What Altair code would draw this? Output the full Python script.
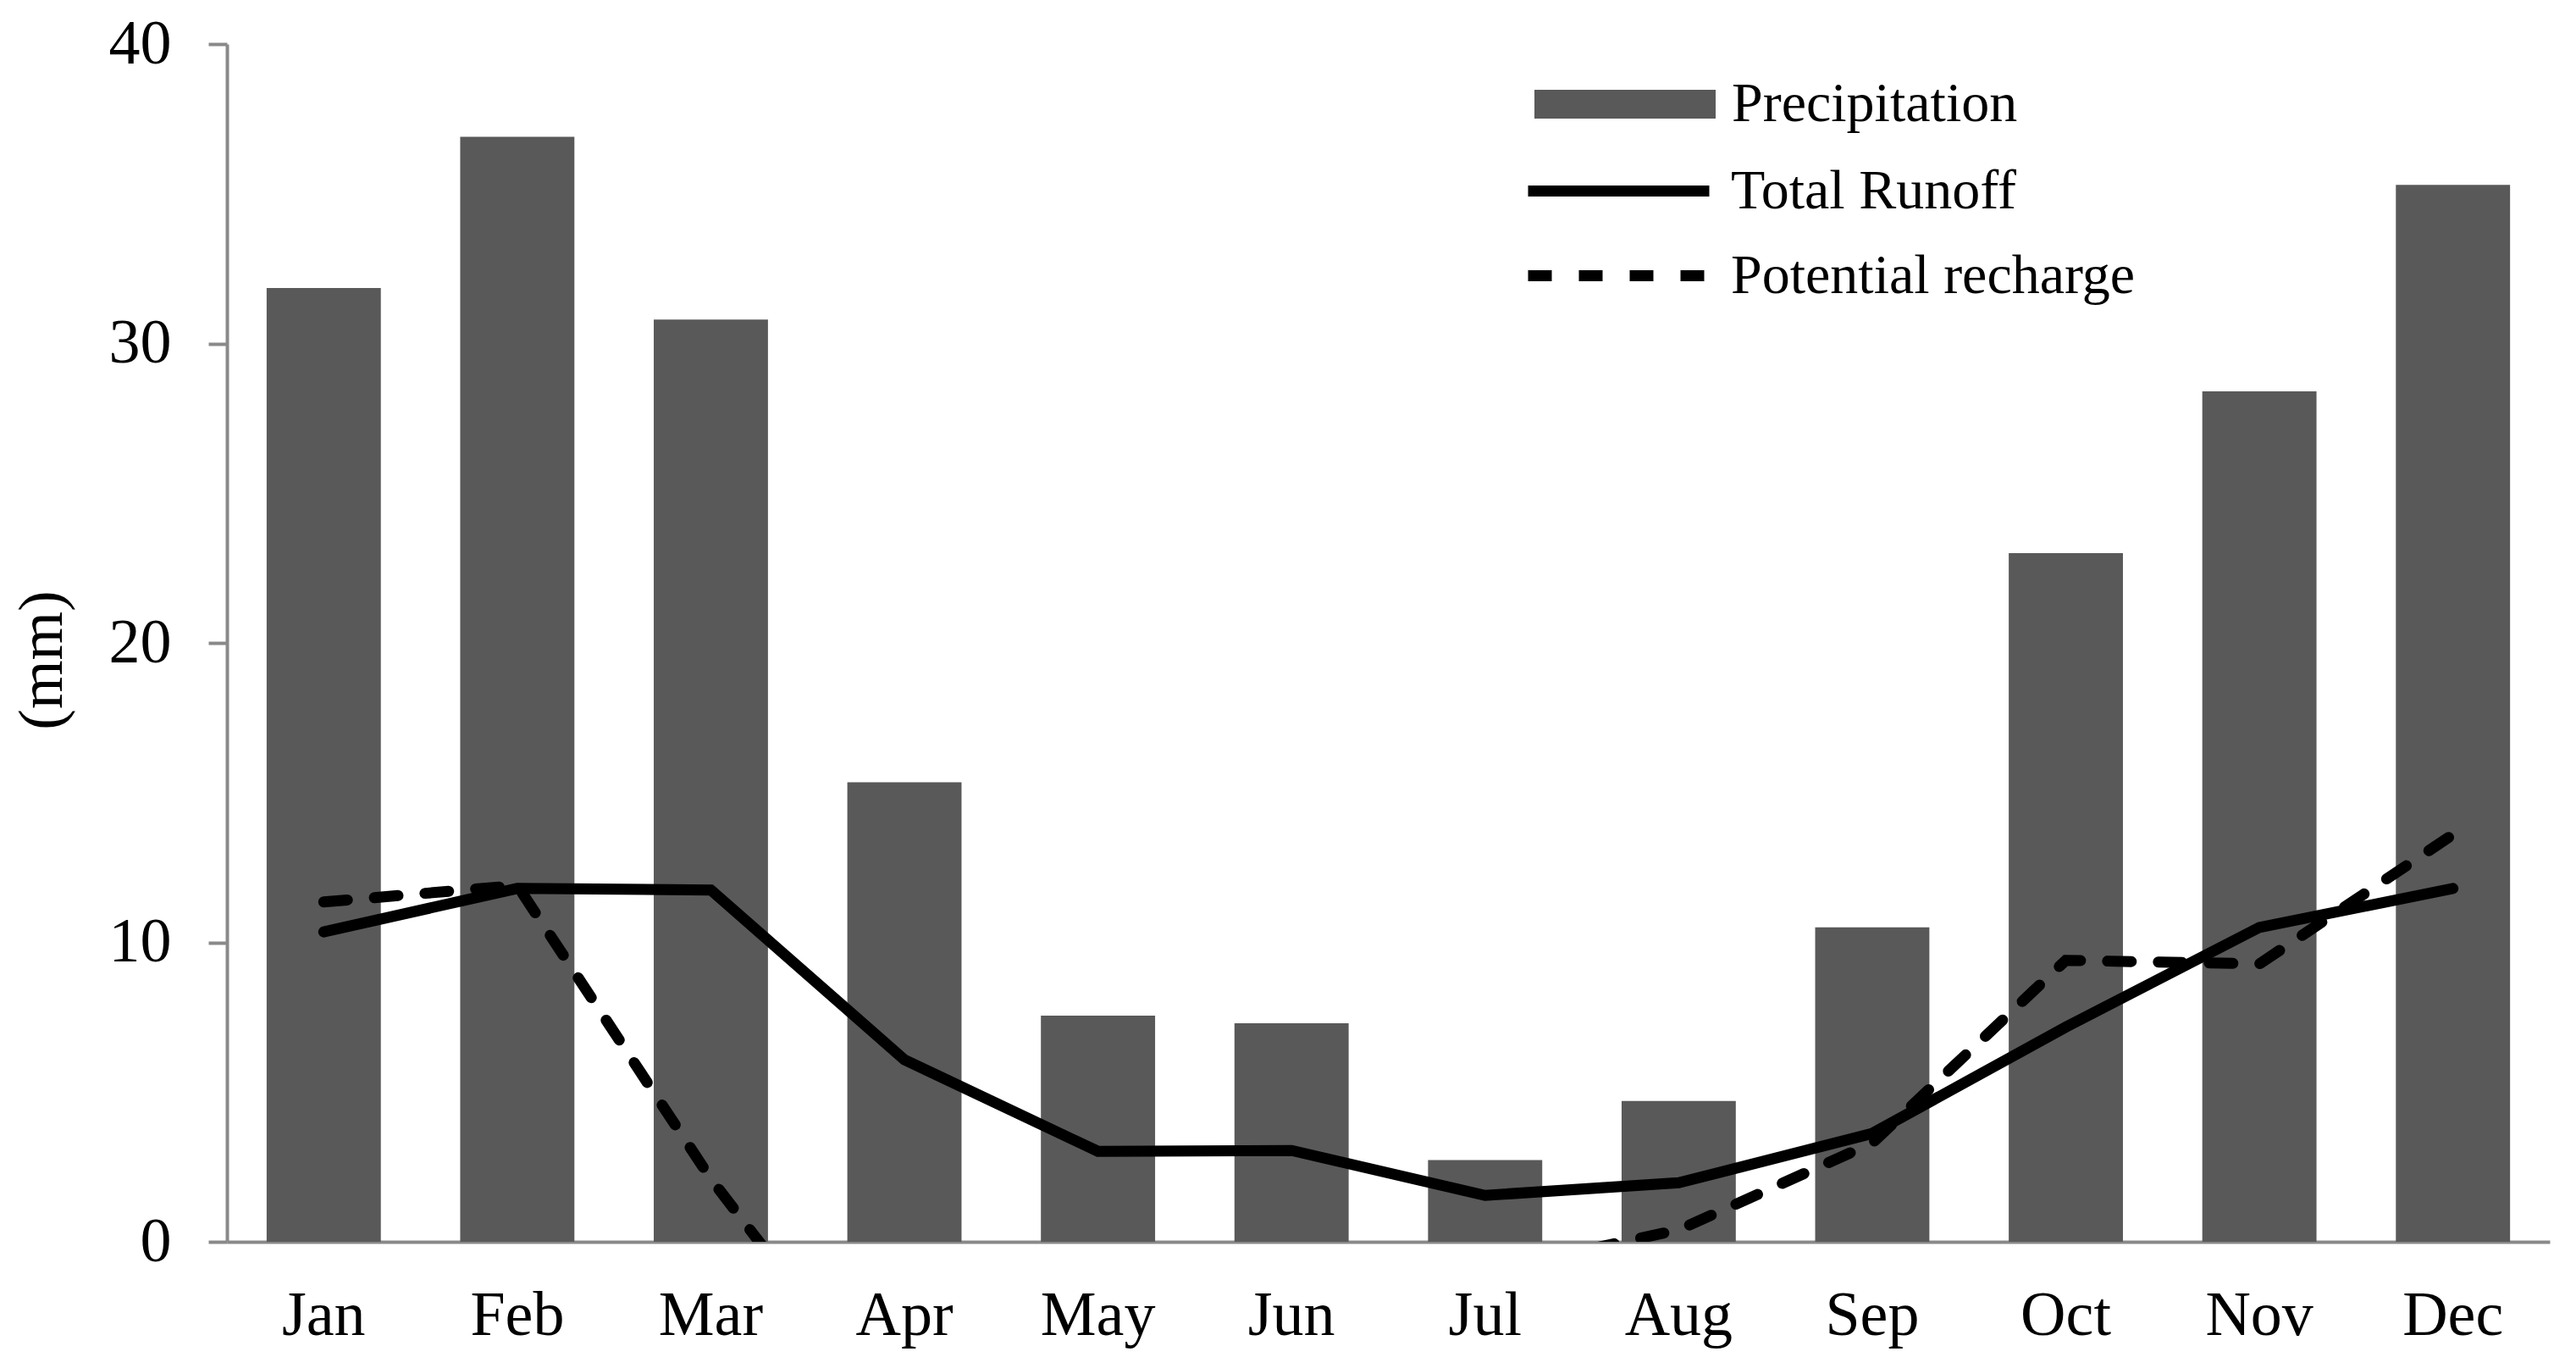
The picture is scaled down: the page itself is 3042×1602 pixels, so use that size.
import altair as alt
import pandas as pd

months = ["Jan", "Feb", "Mar", "Apr", "May", "Jun",
          "Jul", "Aug", "Sep", "Oct", "Nov", "Dec"]
precipitation = [31.85, 36.9, 30.8, 15.35, 7.55, 7.3, 2.73, 4.7, 10.5, 23.0, 28.4, 35.3]
total_runoff = [10.35, 11.8, 11.75, 6.08, 3.02, 3.05, 1.55, 1.97, 3.62, 7.17, 10.5, 11.8]
potential_recharge = [11.35, 11.9, 2.1, -6.3, -5.0, -3.5, -1.0, 0.4, 3.3, 9.4, 9.28, 13.6]
y_ticks = [0, 10, 20, 30, 40]
series_names = ["Precipitation", "Total Runoff", "Potential recharge"]

FONT = "Liberation Serif"
GRAY_AXIS = "#898989"
BAR_FILL = "#595959"
LEGEND_FONT_SIZE = 66

bars_df = pd.DataFrame({"month": months, "value": precipitation,
                        "bar_series": series_names[0]})
runoff_df = pd.DataFrame({"month": months, "value": total_runoff,
                          "runoff_series": series_names[1]})
recharge_df = pd.DataFrame({"month": months, "value": potential_recharge,
                            "recharge_series": series_names[2]})

x_enc = alt.X(
    "month:N", sort=months, title=None,
    scale=alt.Scale(paddingInner=0.41, paddingOuter=0.205),
    axis=alt.Axis(labelAngle=0, ticks=False, tickSize=0, labelFontSize=74,
                  labelFont=FONT, labelColor="black", labelBaseline="alphabetic",
                  labelPadding=109, domainColor=GRAY_AXIS, domainWidth=4,
                  grid=False),
)
y_enc = alt.Y(
    "value:Q",
    scale=alt.Scale(domain=[0, 40], nice=False, zero=True),
    axis=alt.Axis(values=y_ticks, title="(mm)", titleFontSize=74, titleFont=FONT,
                  titleFontWeight="normal", titleColor="black", titleAngle=270,
                  titleX=-196, titleY=727, titleBaseline="alphabetic",
                  titleAlign="center", labelFontSize=74, labelFont=FONT,
                  labelColor="black", labelPadding=44, tickSize=22, tickWidth=4,
                  tickColor=GRAY_AXIS, domainColor=GRAY_AXIS, domainWidth=4,
                  grid=False),
)

bars = alt.Chart(bars_df).mark_bar(color=BAR_FILL).encode(
    x=x_enc,
    y=y_enc,
    fill=alt.Fill(
        "bar_series:N",
        scale=alt.Scale(domain=[series_names[0]], range=[BAR_FILL]),
        legend=alt.Legend(
            title=None, orient="none", legendX=1544, legendY=-36, padding=0,
            symbolType="M-1,-0.159L1,-0.159L1,0.159L-1,0.159Z",
            symbolSize=45796, symbolStrokeWidth=0, symbolOpacity=1,
            labelFontSize=LEGEND_FONT_SIZE, labelFont=FONT, labelColor="black",
            labelOffset=19, labelLimit=0,
        ),
    ),
)

recharge = alt.Chart(recharge_df).mark_line(
    color="black", strokeWidth=13, strokeCap="round", clip=True
).encode(
    x=alt.X("month:N", sort=months),
    y=alt.Y("value:Q"),
    strokeDash=alt.StrokeDash(
        "recharge_series:N",
        scale=alt.Scale(domain=[series_names[2]], range=[[28, 32]]),
        legend=alt.Legend(
            title=None, orient="none", legendX=1530, legendY=160, padding=0,
            symbolType="stroke", symbolSize=45796, symbolStrokeWidth=13,
            symbolStrokeColor="black",
            labelFontSize=LEGEND_FONT_SIZE, labelFont=FONT, labelColor="black",
            labelOffset=19, labelLimit=0,
        ),
    ),
)

runoff = alt.Chart(runoff_df).mark_line(
    strokeWidth=13, strokeCap="round", clip=True
).encode(
    x=alt.X("month:N", sort=months),
    y=alt.Y("value:Q"),
    stroke=alt.Stroke(
        "runoff_series:N",
        scale=alt.Scale(domain=[series_names[1]], range=["black"]),
        legend=alt.Legend(
            title=None, orient="none", legendX=1530, legendY=60, padding=0,
            symbolType="stroke", symbolSize=45796, symbolStrokeWidth=13,
            labelFontSize=LEGEND_FONT_SIZE, labelFont=FONT, labelColor="black",
            labelOffset=19, labelLimit=0,
        ),
    ),
)

chart = alt.layer(bars, recharge, runoff).resolve_legend(
    fill="independent", stroke="independent", strokeDash="independent"
).properties(
    width=2743,
    height=1414,
    autosize=alt.AutoSizeParams(type="none"),
    padding={"left": 260, "top": 44, "right": 20, "bottom": 130},
    background="white",
).configure(font=FONT).configure_view(stroke=None)

chart.save("out.html", embed_options={"renderer": "svg", "actions": False})
